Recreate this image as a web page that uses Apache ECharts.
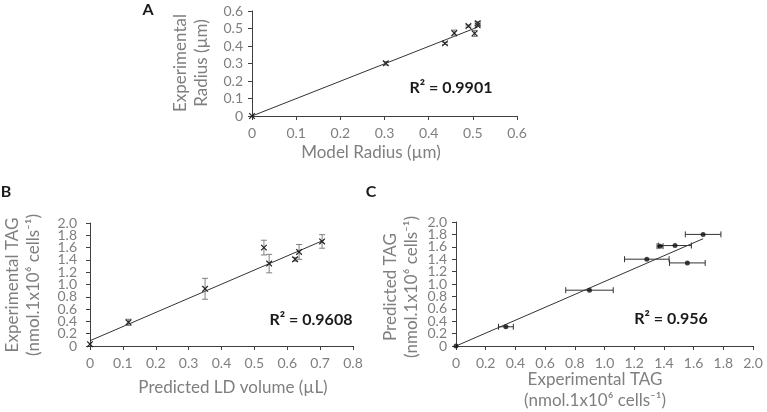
<!DOCTYPE html>
<html><head><meta charset="utf-8">
<script src="https://cdn.jsdelivr.net/npm/echarts@6/dist/echarts.min.js"></script>
<style>html,body{margin:0;padding:0;background:#fff}#c{width:767px;height:412px}</style>
</head><body><div id="c"></div>
<script>
// ---- Panel A data ----
const modelRadius   = [0, 0.303, 0.437, 0.458, 0.490, 0.504, 0.511, 0.511];
const expRadius     = [0, 0.301, 0.415, 0.474, 0.514, 0.472, 0.530, 0.518];
const expRadiusErr  = [0, 0.010, 0.006, 0.017, 0.006, 0.017, 0.010, 0.006];
const trendAx = [0, 0.511];
const trendAy = [0, 0.508];
const ticksA = [0, 0.1, 0.2, 0.3, 0.4, 0.5, 0.6];

// ---- Panel B data ----
const predVolume   = [0, 0.117, 0.350, 0.529, 0.545, 0.624, 0.636, 0.706];
const expTAG_B     = [0.03, 0.385, 0.93, 1.60, 1.34, 1.41, 1.53, 1.70];
const expTAG_BErr  = [0, 0.05, 0.17, 0.12, 0.15, 0.03, 0.12, 0.11];
const trendBx = [0, 0.711];
const trendBy = [0.086, 1.72];
const ticksBx = [0, 0.1, 0.2, 0.3, 0.4, 0.5, 0.6, 0.7, 0.8];
const ticksBy = [0, 0.2, 0.4, 0.6, 0.8, 1.0, 1.2, 1.4, 1.6, 1.8, 2.0];

// ---- Panel C data ----
const expTAG_C    = [0, 0.336, 0.899, 1.285, 1.374, 1.475, 1.558, 1.664];
const predTAG_C   = [0, 0.31, 0.90, 1.40, 1.61, 1.62, 1.34, 1.80];
const expTAG_CErr = [0, 0.05, 0.16, 0.15, 0.02, 0.11, 0.12, 0.12];
const trendCx = [0, 1.664];
const trendCy = [0, 1.73];
const ticksC = [0, 0.2, 0.4, 0.6, 0.8, 1.0, 1.2, 1.4, 1.6, 1.8, 2.0];

const FONT = 'Lato, "Open Sans", sans-serif';
const GRAY = '#7f7f7f';
const AXIS = '#404040';
const fmt = v => (Math.abs(v) < 1e-9 ? '0' : v.toFixed(1));

function axis(gridIndex, ticks, margin, fontSize, showLabel) {
  return {
    type: 'value', gridIndex,
    min: ticks[0], max: ticks[ticks.length - 1], interval: ticks[1] - ticks[0],
    axisLine: { show: true, onZero: false, lineStyle: { color: AXIS, width: 1 } },
    axisTick: { show: true, length: 4, lineStyle: { color: AXIS } },
    splitLine: { show: false },
    axisLabel: { show: showLabel !== false, color: GRAY, fontFamily: FONT, fontSize, margin, formatter: fmt,
                 showMinLabel: true, showMaxLabel: true, hideOverlap: false },
  };
}

function yErrRender(params, api) {
  const x = api.value(0), y = api.value(1), e = api.value(2);
  const p = api.coord([x, y]);
  const ch = [];
  const errStyle = { stroke: '#808080', lineWidth: 1 };
  if (e > 0) {
    const t = api.coord([x, y + e]), b = api.coord([x, y - e]);
    ch.push({ type: 'line', shape: { x1: p[0], y1: t[1], x2: p[0], y2: b[1] }, style: errStyle });
    ch.push({ type: 'line', shape: { x1: p[0] - 3, y1: t[1], x2: p[0] + 3, y2: t[1] }, style: errStyle });
    ch.push({ type: 'line', shape: { x1: p[0] - 3, y1: b[1], x2: p[0] + 3, y2: b[1] }, style: errStyle });
  }
  const s = 2.8, ms = { stroke: '#222', lineWidth: 1.2 };
  ch.push({ type: 'line', shape: { x1: p[0] - s, y1: p[1] - s, x2: p[0] + s, y2: p[1] + s }, style: ms });
  ch.push({ type: 'line', shape: { x1: p[0] - s, y1: p[1] + s, x2: p[0] + s, y2: p[1] - s }, style: ms });
  return { type: 'group', children: ch };
}

function xErrRender(params, api) {
  const x = api.value(0), y = api.value(1), e = api.value(2);
  const p = api.coord([x, y]);
  const ch = [];
  const st = { stroke: '#333', lineWidth: 1 };
  if (e > 0) {
    const l = api.coord([x - e, y]), r = api.coord([x + e, y]);
    ch.push({ type: 'line', shape: { x1: l[0], y1: p[1], x2: r[0], y2: p[1] }, style: st });
    ch.push({ type: 'line', shape: { x1: l[0], y1: p[1] - 3, x2: l[0], y2: p[1] + 3 }, style: st });
    ch.push({ type: 'line', shape: { x1: r[0], y1: p[1] - 3, x2: r[0], y2: p[1] + 3 }, style: st });
  }
  return { type: 'group', children: ch };
}

const zip3 = (a, b, c) => a.map((v, i) => [v, b[i], c[i]]);
const zip2 = (a, b) => a.map((v, i) => [v, b[i]]);
const trend = (xi, yi, xs, ys) => ({
  type: 'line', xAxisIndex: xi, yAxisIndex: yi, data: zip2(xs, ys),
  symbol: 'none', silent: true, lineStyle: { color: '#333', width: 1 }, z: 1
});

const titleStyle = { fill: GRAY, font: '17px ' + FONT, align: 'center', verticalAlign: 'middle' };
const txt = (x, y, text) => ({ type: 'text', x, y, style: Object.assign({ text }, titleStyle) });
const vtxt = (x, y, text) => ({ type: 'text', x, y, rotation: Math.PI / 2, style: Object.assign({ text }, titleStyle) });
const bold = (x, y, text) => ({ type: 'text', x, y, style: { text, fill: '#1a1a1a', font: 'bold 16px ' + FONT, align: 'center', verticalAlign: 'middle' } });

const option = {
  animation: false,
  grid: [
    { left: 252, top: 11, width: 265, height: 105 },
    { left: 90, top: 223, width: 263, height: 123 },
    { left: 456, top: 222, width: 297, height: 124 },
  ],
  xAxis: [axis(0, ticksA, 10, 14), axis(1, ticksBx, 10, 14), axis(2, ticksC, 10, 14)],
  yAxis: [axis(0, ticksA, 9, 14), axis(1, ticksBy, 13, 14, false), axis(2, ticksC, 9, 14, false)],
  series: [
    trend(0, 0, trendAx, trendAy),
    { type: 'custom', xAxisIndex: 0, yAxisIndex: 0, renderItem: yErrRender, data: zip3(modelRadius, expRadius, expRadiusErr), encode: { x: 0, y: 1 }, z: 3 },
    trend(1, 1, trendBx, trendBy),
    { type: 'custom', xAxisIndex: 1, yAxisIndex: 1, renderItem: yErrRender, data: zip3(predVolume, expTAG_B, expTAG_BErr), encode: { x: 0, y: 1 }, z: 3 },
    trend(2, 2, trendCx, trendCy),
    { type: 'custom', xAxisIndex: 2, yAxisIndex: 2, renderItem: xErrRender, data: zip3(expTAG_C, predTAG_C, expTAG_CErr), encode: { x: 0, y: 1 }, z: 2 },
    { type: 'scatter', xAxisIndex: 2, yAxisIndex: 2, data: zip2(expTAG_C, predTAG_C), symbol: 'circle', symbolSize: 5, itemStyle: { color: '#111' }, z: 4 },
  ],
  graphic: [
    bold(148, 10, 'A'), bold(6, 192, 'B'), bold(371, 192, 'C'),
    bold(451, 88, 'R² = 0.9901'), bold(311, 320, 'R² = 0.9608'), bold(671, 319, 'R² = 0.956'),
    vtxt(181, 63, 'Experimental'), vtxt(202, 63, 'Radius (µm)'),
    txt(371, 153, 'Model Radius (µm)'),
    vtxt(13, 285, 'Experimental TAG'), vtxt(34, 285, '(nmol.1x10⁶ cells⁻¹)'),
    txt(233, 388, 'Predicted LD volume (µL)'),
    vtxt(391, 287, 'Predicted TAG'), vtxt(412, 287, '(nmol.1x10⁶ cells⁻¹)'),
    txt(595, 380, 'Experimental TAG'), txt(595, 401, '(nmol.1x10⁶ cells⁻¹)'),
  ],
};
const chart = echarts.init(document.getElementById('c'), null, { renderer: 'canvas' });
chart.setOption(option);

// Dense y tick labels for panels B and C, placed through the axes' own scales
function tickLabels(gridIdx, ticks, margin) {
  return ticks.map(v => {
    const p = chart.convertToPixel({ xAxisIndex: gridIdx, yAxisIndex: gridIdx }, [0, v]);
    return { type: 'text', x: p[0] - margin, y: p[1],
      style: { text: fmt(v), fill: GRAY, font: '14px ' + FONT, align: 'right', verticalAlign: 'middle' } };
  });
}
chart.setOption({ graphic: option.graphic.concat(tickLabels(1, ticksBy, 13), tickLabels(2, ticksC, 9)) });
</script></body></html>
